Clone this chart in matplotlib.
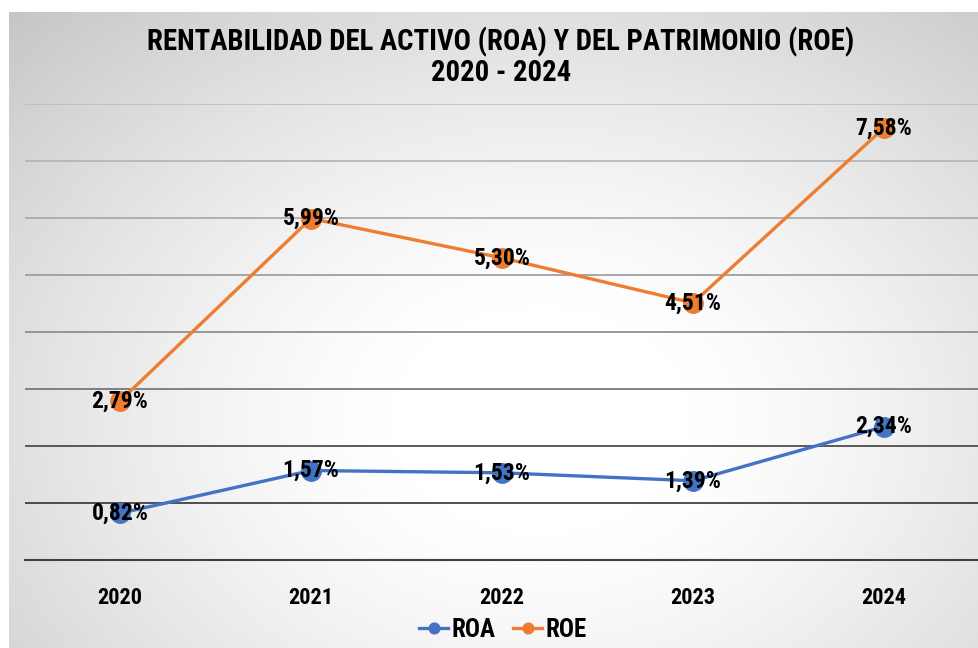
import matplotlib
matplotlib.use('Agg')
import matplotlib.pyplot as plt
import numpy as np

# Colours
BLUE = '#4472C4'
ORANGE = '#ED7D31'
AXIS = '#404040'
# gridline shades from top (8%) down to 1%: they darken toward the bottom
GRID_SHADES = ['#bdbdbd', '#b3b3b3', '#a6a6a6', '#989898',
               '#878787', '#6e6e6e', '#404040', '#333333']

plt.rcParams['font.family'] = ['Liberation Sans Narrow', 'Roboto Condensed',
                               'Archivo Narrow', 'Liberation Sans', 'DejaVu Sans']

years = ['2020', '2021', '2022', '2023', '2024']
roa = [0.82, 1.57, 1.53, 1.39, 2.34]
roe = [2.79, 5.99, 5.30, 4.51, 7.58]

W, H = 979, 648
fig = plt.figure(figsize=(W / 100, H / 100), dpi=100, facecolor='white')

# ── Chart area background: radial gradient, white centre to grey edges ──
bg = fig.add_axes([0, 0, 1, 1], zorder=0)
bg.set_axis_off()
yy, xx = np.mgrid[0:H, 0:W]
d = np.sqrt(((xx - 540) / 600) ** 2 + ((yy - 420) / 450) ** 2)
t = np.clip((d - 0.25) / 1.0, 0, 1)
shade = 1.0 - 0.22 * t ** 1.3
img = np.dstack([shade, shade, shade])
img[:12, :, :] = 1.0
img[:, :9, :] = 1.0
bg.imshow(img, extent=(0, W, H, 0), aspect='auto', interpolation='bilinear')
bg.set_xlim(0, W)
bg.set_ylim(H, 0)

# ── Plot area ──
ax = fig.add_axes([24.5 / W, (H - 560) / H, 955 / W, 456 / H], zorder=1)
ax.patch.set_alpha(0)
x = np.arange(len(years))

ax.set_xlim(-0.5, len(years) - 0.5)
ax.set_ylim(0, 8)
for level, col in zip(range(8, 0, -1), GRID_SHADES):
    ax.axhline(level, color=col, linewidth=1.2, zorder=1)
for side in ['top', 'right', 'left']:
    ax.spines[side].set_visible(False)
ax.spines['bottom'].set_color(AXIS)
ax.spines['bottom'].set_linewidth(1.5)
ax.set_yticks([])
ax.tick_params(axis='x', bottom=False, pad=16)
ax.set_xticks(x)
ax.set_xticklabels(years, fontsize=16, fontweight='bold', color='black')

ax.plot(x, roa, color=BLUE, linewidth=2.4, marker='o', markersize=14,
        label='ROA', zorder=3)
ax.plot(x, roe, color=ORANGE, linewidth=2.4, marker='o', markersize=14,
        label='ROE', zorder=3)

for series in (roa, roe):
    for i, v in enumerate(series):
        ax.text(i, v, f'{v:.2f}%'.replace('.', ','), ha='center', va='center',
                fontsize=17, fontweight='bold', color='black', zorder=4)

fig.legend(loc='center', bbox_to_anchor=(503 / W, 1 - 630 / H), ncol=2,
           frameon=False, handlelength=1.15, markerscale=0.55,
           columnspacing=0.7, handletextpad=0.15,
           prop={'weight': 'bold', 'size': 18})

fig.text(501 / W, 1 - 42 / H, 'RENTABILIDAD DEL ACTIVO (ROA) Y DEL PATRIMONIO (ROE)',
         ha='center', va='center', fontsize=20.7, fontweight='bold', color='black')
fig.text(501 / W, 1 - 73 / H, '2020 - 2024',
         ha='center', va='center', fontsize=20.7, fontweight='bold', color='black')

fig.savefig('out.png', dpi=100, facecolor='white')
